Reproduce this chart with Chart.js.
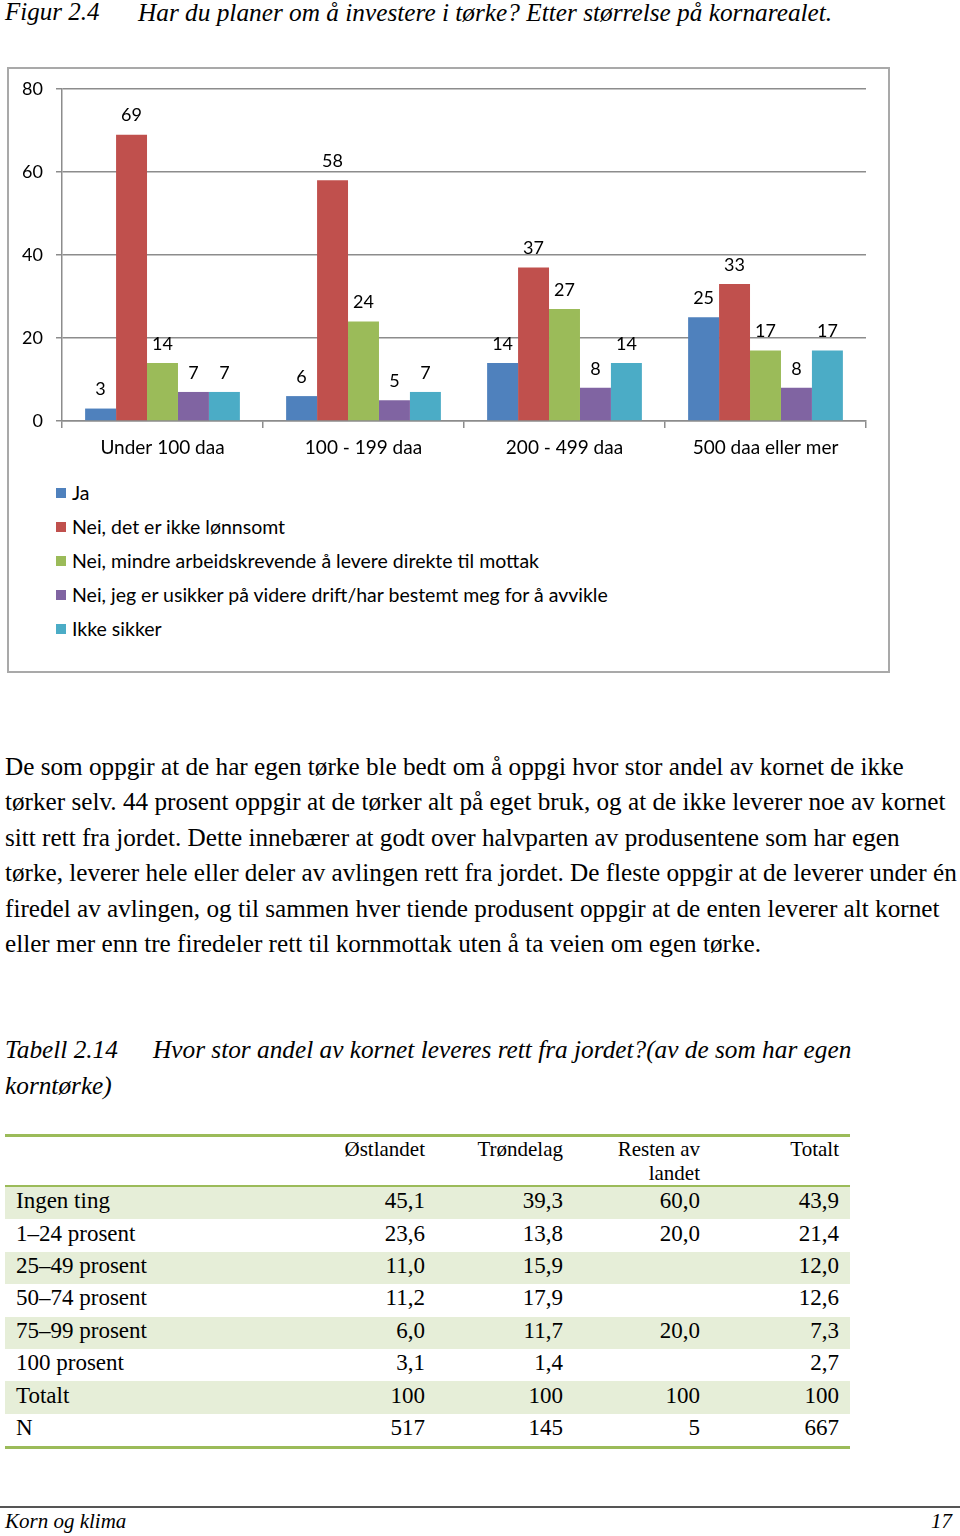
<!DOCTYPE html>
<html>
<head>
<meta charset="utf-8">
<script src="https://cdn.jsdelivr.net/npm/chart.js@4.4.0/dist/chart.umd.min.js"></script>
<style>
  body { margin: 0; width: 960px; height: 1536px; background: #fff; position: relative; overflow: hidden; }
  .abs { position: absolute; white-space: nowrap; }
  .serif { font-family: "Liberation Serif", "Times New Roman", serif; color: #000; }
  .ital { font-style: italic; }
  #frame { position: absolute; left: 7px; top: 67px; width: 883px; height: 606px; box-sizing: border-box; border: 2px solid #a9a9a9; }
  #chartBox { position: absolute; left: 0; top: 60px; width: 900px; height: 410px; }
  #legend { position: absolute; left: 56px; top: 476px; font-family: Lato, sans-serif; font-size: 19.5px; color: #000; }
  #legend .item { height: 34px; line-height: 24px; display: flex; align-items: center; }
  #legend .box { width: 10px; height: 10px; margin-right: 6px; }
  #para { left: 5px; top: 749px; font-size: 25.2px; line-height: 35.4px; }
  table { position: absolute; left: 5px; top: 1134px; border-collapse: collapse; table-layout: fixed; width: 845px; font-family: "Liberation Serif", serif; }
  th { font-weight: normal; font-size: 21px; line-height: 24px; text-align: right; vertical-align: top; padding: 0; height: 46px; }
  td { font-size: 23px; height: 28.4px; padding: 0 0 4px 0; text-align: right; }
  td.lbl { text-align: left; padding-left: 11px; }
  tr.shade td { background: #e6eed8; }
</style>
</head>
<body>

<div class="abs serif ital" style="left:5px; top:0; font-size:25px; line-height:24px;">Figur 2.4</div>
<div class="abs serif ital" style="left:138px; top:0; font-size:25.3px; line-height:24px;">Har du planer om å investere i tørke? Etter størrelse på kornarealet.</div>

<div id="frame"></div>
<div id="chartBox"><canvas id="myChart" width="900" height="410"></canvas></div>
<div id="legend"></div>

<div id="para" class="abs serif">
De som oppgir at de har egen tørke ble bedt om å oppgi hvor stor andel av kornet de ikke<br>
tørker selv. 44 prosent oppgir at de tørker alt på eget bruk, og at de ikke leverer noe av kornet<br>
sitt rett fra jordet. Dette innebærer at godt over halvparten av produsentene som har egen<br>
tørke, leverer hele eller deler av avlingen rett fra jordet. De fleste oppgir at de leverer under én<br>
firedel av avlingen, og til sammen hver tiende produsent oppgir at de enten leverer alt kornet<br>
eller mer enn tre firedeler rett til kornmottak uten å ta veien om egen tørke.
</div>

<div class="abs serif ital" style="left:5px; top:1037px; font-size:25.3px; line-height:24px;">Tabell 2.14</div>
<div class="abs serif ital" style="left:153px; top:1037px; font-size:25.3px; line-height:24px;">Hvor stor andel av kornet leveres rett fra jordet?(av de som har egen</div>
<div class="abs serif ital" style="left:5px; top:1073px; font-size:25.3px; line-height:24px;">korntørke)</div>

<table id="tbl"></table>

<div class="abs" style="left:0; top:1506px; width:960px; height:0; border-top:2px solid #555;"></div>
<div class="abs serif ital" style="left:5px; top:1510px; font-size:21px; line-height:22px;">Korn og klima</div>
<div class="abs serif ital" style="right:8px; top:1510px; font-size:21px; line-height:22px;">17</div>

<script>
// Chart data
const categories = ['Under 100 daa', '100 - 199 daa', '200 - 499 daa', '500 daa eller mer'];
const seriesNames = [
    'Ja',
    'Nei, det er ikke lønnsomt',
    'Nei, mindre arbeidskrevende å levere direkte til mottak',
    'Nei, jeg er usikker på videre drift/har bestemt meg for å avvikle',
    'Ikke sikker'
];
const ja = [3, 6, 14, 25];
const neiLonnsomt = [69, 58, 37, 33];
const neiArbeid = [14, 24, 27, 17];
const neiUsikker = [7, 5, 8, 8];
const ikkeSikker = [7, 7, 14, 17];
const yTicks = [0, 20, 40, 60, 80];
const colors = ['#4f81bd', '#c0504d', '#9bbb59', '#8064a2', '#4bacc6'];

// Table data
const tableHeads = ['', 'Østlandet', 'Trøndelag', 'Resten av<br>landet', 'Totalt'];
const rowLabels = ['Ingen ting', '1–24 prosent', '25–49 prosent', '50–74 prosent', '75–99 prosent', '100 prosent', 'Totalt', 'N'];
const ostlandet = ['45,1', '23,6', '11,0', '11,2', '6,0', '3,1', '100', '517'];
const trondelag = ['39,3', '13,8', '15,9', '17,9', '11,7', '1,4', '100', '145'];
const resten = ['60,0', '20,0', '', '', '20,0', '', '100', '5'];
const totalt = ['43,9', '21,4', '12,0', '12,6', '7,3', '2,7', '100', '667'];

const numFont = { family: 'Lato, sans-serif', size: 18 };
const catFont = { family: 'Lato, sans-serif', size: 19 };
const gridColor = '#8c8c8c';

// Draw value labels above each bar
const valueLabels = {
    id: 'valueLabels',
    afterDatasetsDraw(chart) {
        const ctx = chart.ctx;
        ctx.save();
        ctx.font = '18px Lato, sans-serif';
        ctx.fillStyle = '#000';
        ctx.textAlign = 'center';
        ctx.textBaseline = 'middle';
        chart.data.datasets.forEach((ds, d) => {
            chart.getDatasetMeta(d).data.forEach((bar, i) => {
                ctx.fillText(ds.data[i], bar.x, bar.y - 19);
            });
        });
        ctx.restore();
    }
};

const allSeries = [ja, neiLonnsomt, neiArbeid, neiUsikker, ikkeSikker];

const ctx = document.getElementById('myChart').getContext('2d');
const myChart = new Chart(ctx, {
    type: 'bar',
    data: {
        labels: categories,
        datasets: allSeries.map((values, k) => ({
            label: seriesNames[k],
            data: values,
            backgroundColor: colors[k],
            borderWidth: 0,
            categoryPercentage: 0.77,
            barPercentage: 1
        }))
    },
    options: {
        responsive: false,
        animation: false,
        layout: { padding: { top: 29, right: 34, left: 0, bottom: 0 } },
        plugins: {
            legend: { display: false },
            tooltip: { enabled: false }
        },
        scales: {
            x: {
                grid: { drawOnChartArea: false, drawTicks: true, tickLength: 7, color: gridColor, lineWidth: 1.5 },
                border: { color: gridColor, width: 1.5 },
                ticks: { font: catFont, color: '#000', padding: 8 },
                afterFit: s => { s.height = 49; }
            },
            y: {
                min: 0,
                max: 80,
                afterBuildTicks: s => { s.ticks = yTicks.map(v => ({ value: v })); },
                ticks: { font: numFont, color: '#000', padding: 13 },
                grid: { color: gridColor, lineWidth: 1.5, tickLength: 6 },
                border: { color: gridColor, width: 1.5 },
                afterFit: s => { s.width = 62; }
            }
        }
    },
    plugins: [valueLabels]
});

// Legend, one item per row
const legend = document.getElementById('legend');
seriesNames.forEach((name, k) => {
    const item = document.createElement('div');
    item.className = 'item';
    item.innerHTML = '<span class="box" style="background:' + colors[k] + '"></span><span>' + name + '</span>';
    legend.appendChild(item);
});

// Table
const tbl = document.getElementById('tbl');
let html = '<colgroup><col style="width:295px"><col style="width:125px"><col style="width:138px"><col style="width:137px"><col style="width:150px"></colgroup>';
html += '<tr style="border-top:3px solid #9bbb59; border-bottom:2px solid #9bbb59;">';
tableHeads.forEach((h, j) => {
    html += '<th' + (j === 4 ? ' style="padding-right:11px;"' : '') + '>' + h + '</th>';
});
html += '</tr>';
rowLabels.forEach((lbl, i) => {
    const last = i === rowLabels.length - 1;
    html += '<tr class="' + (i % 2 === 0 ? 'shade' : '') + '"' + (last ? ' style="border-bottom:3px solid #9bbb59;"' : '') + '>';
    html += '<td class="lbl">' + lbl + '</td>';
    html += '<td>' + ostlandet[i] + '</td>';
    html += '<td>' + trondelag[i] + '</td>';
    html += '<td>' + resten[i] + '</td>';
    html += '<td style="padding-right:11px;">' + totalt[i] + '</td>';
    html += '</tr>';
});
tbl.innerHTML = html;
</script>
</body>
</html>
